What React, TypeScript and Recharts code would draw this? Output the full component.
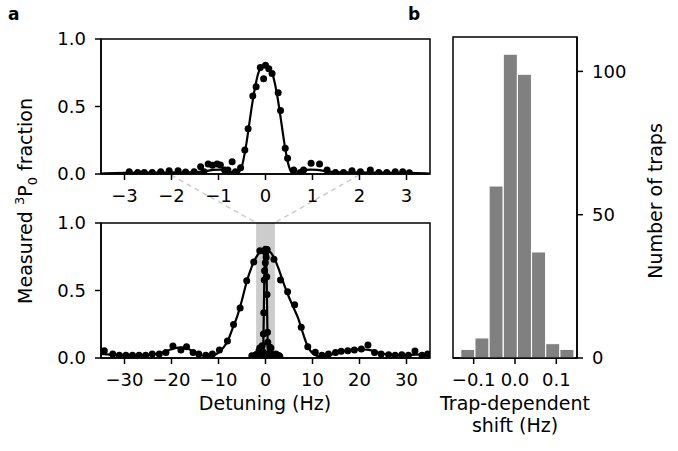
import {
  ComposedChart,
  BarChart,
  Bar,
  Line,
  Scatter,
  XAxis,
  YAxis,
  ReferenceArea,
} from 'recharts';

// narrow scan (top panel, also drawn in the wide panel)
const narrowDotX = [
  -2.9, -2.72, -2.58, -2.41, -2.23, -2.05, -1.86, -1.7, -1.52, -1.38, -1.31, -1.22, -1.13, -1.03, -0.96,
  -0.87, -0.8, -0.71, -0.64, -0.53, -0.44, -0.37, -0.27, -0.2, -0.11, -0.04, 0.0, 0.07, 0.14, 0.27,
  0.32, 0.42, 0.47, 0.6, 0.74, 0.81, 0.97, 1.15, 1.31, 1.49, 1.66, 1.84, 2.02, 2.23, 2.41, 2.58,
  2.76, 2.92, 3.06,
];
const narrowDotY = [
  0.017, 0.012, 0.012, 0.012, 0.017, 0.025, 0.025, 0.015, 0.017, 0.054, 0.017, 0.074, 0.065, 0.074, 0.067,
  0.03, 0.03, 0.09, 0.017, 0.047, 0.178, 0.336, 0.578, 0.647, 0.788, 0.705, 0.805, 0.78, 0.745, 0.602,
  0.47, 0.19, 0.116, 0.03, 0.012, 0.03, 0.079, 0.074, 0.03, 0.012, 0.012, 0.025, 0.017, 0.03, 0.012, 0.012,
  0.017, 0.017, 0.01,
];
const narrowFitX = [
  -3.5, -3.0, -2.5, -2.0, -1.6, -1.3, -1.1, -0.95, -0.8, -0.7, -0.62, -0.55, -0.5, -0.45, -0.4, -0.35,
  -0.3, -0.25, -0.2, -0.15, -0.1, -0.05, 0, 0.05, 0.1, 0.15, 0.2, 0.25, 0.3, 0.35, 0.4, 0.45, 0.5, 0.55,
  0.62, 0.7, 0.8, 0.95, 1.1, 1.3, 1.6, 2.0, 2.5, 3.0, 3.5,
];
const narrowFitY = [
  0.003, 0.008, 0.01, 0.012, 0.013, 0.02, 0.03, 0.032, 0.025, 0.01, 0.0, 0.02, 0.06, 0.14, 0.24, 0.36,
  0.48, 0.59, 0.68, 0.75, 0.785, 0.8, 0.805, 0.8, 0.78, 0.74, 0.67, 0.58, 0.47, 0.35, 0.23, 0.13, 0.055, 0.015,
  0.0, 0.01, 0.025, 0.032, 0.03, 0.02, 0.013, 0.012, 0.01, 0.008, 0.003,
];

// wide scan (bottom panel)
const wideDotX = [
  -34.3, -32.5, -31.1, -29.7, -28.3, -26.9, -25.5, -24.1, -22.6, -21.2, -19.7, -18.0, -16.8, -15.4, -14.2,
  -12.7, -11.3, -9.8, -8.1, -6.8, -5.4, -4.0, -2.5, -1.2, 0.35, 1.8, 3.2, 4.7, 6.2, 7.6, 9.0, 10.6, 12.0,
  13.4, 14.9, 16.1, 17.5, 18.9, 20.4, 21.8, 23.2, 24.6, 26.2, 27.6, 29.0, 30.4, 31.8, 33.3, 34.5,
];
const wideDotY = [
  0.054, 0.03, 0.02, 0.02, 0.02, 0.02, 0.02, 0.03, 0.03, 0.04, 0.089, 0.059, 0.084, 0.04, 0.03,
  0.02, 0.03, 0.059, 0.126, 0.248, 0.37, 0.572, 0.712, 0.795, 0.803, 0.731, 0.578, 0.49, 0.395, 0.227, 0.084, 0.042, 0.02,
  0.03, 0.04, 0.05, 0.054, 0.06, 0.067, 0.096, 0.04, 0.03, 0.025, 0.02, 0.025, 0.02, 0.052, 0.02, 0.03,
];
const wideFitX = [
  -35, -33, -30, -27, -24, -22, -20, -19, -18, -17, -16, -15, -14, -13, -12, -11, -10, -9, -8, -7, -6, -5,
  -4, -3, -2, -1, 0, 1, 2, 3, 4, 5, 6, 7, 8, 9, 10, 11, 12, 13, 14, 16, 18, 20, 22, 24, 26, 29, 32, 35,
];
const wideFitY = [
  0.03, 0.025, 0.02, 0.02, 0.025, 0.04, 0.065, 0.075, 0.078, 0.075, 0.06, 0.04, 0.025, 0.015, 0.015, 0.02, 0.04, 0.075, 0.13, 0.22, 0.31, 0.43,
  0.565, 0.67, 0.745, 0.79, 0.8, 0.785, 0.73, 0.64, 0.54, 0.45, 0.37, 0.29, 0.18, 0.085, 0.035, 0.015, 0.01, 0.015, 0.025, 0.045, 0.06, 0.065, 0.06, 0.04, 0.025, 0.02, 0.025, 0.03,
];

// histogram of trap-dependent shifts
const shiftCenters = [-0.114, -0.0797, -0.0455, -0.0112, 0.023, 0.0573, 0.0915, 0.1258];
const shiftCounts = [3, 7, 60, 106, 99, 37, 5, 3];

const narrowTicks = [-3, -2, -1, 0, 1, 2, 3];
const wideTicks = [-30, -20, -10, 0, 10, 20, 30];
const fracTicks = [0, 0.5, 1];
const shiftTicks = [-0.1, 0, 0.1];
const countTicks = [0, 50, 100];

const zip = (xs: number[], ys: number[]) => xs.map((x, i) => ({ x, y: ys[i] }));
const narrowDots = zip(narrowDotX, narrowDotY);
const narrowFit = zip(narrowFitX, narrowFitY);
const wideDots = zip(wideDotX, wideDotY);
const wideFit = zip(wideFitX, wideFitY);
const histData = shiftCenters.map((c, i) => ({ c, n: shiftCounts[i] }));

const FONT = 'DejaVu Sans';
const FS = 18;
const LFS = 19;
const W = 678;
const H = 451;

const tickStyle = { fill: '#000', fontSize: FS, fontFamily: FONT };
const axisLine = { stroke: '#000', strokeWidth: 1.5 };
const tickLine = { stroke: '#000', strokeWidth: 1.5 };
const minus = (v: number) => (v < 0 ? '\u2212' + Math.abs(v) : String(v));
const minus1 = (v: number) => (v < 0 ? '\u2212' + Math.abs(v).toFixed(1) : v.toFixed(1));

const dot = (p: any) => <circle cx={p.cx} cy={p.cy} r={3.5} fill="#000" />;

const abs: React.CSSProperties = { position: 'absolute', left: 0, top: 0 };

export default function App() {
  return (
    <div style={{ position: 'absolute', left: 0, top: 0, width: W, height: H, background: '#fff' }}>
      <svg width={W} height={H} style={abs}>
        <line x1={171} y1={175} x2={256.6} y2={223} stroke="#cccccc" strokeWidth={1.5} strokeDasharray="5 4" />
        <line x1={359} y1={175} x2={274.4} y2={223} stroke="#cccccc" strokeWidth={1.5} strokeDasharray="5 4" />
      </svg>

      {/* top: narrow scan */}
      <div style={abs}>
        <ComposedChart width={W} height={H} margin={{ top: 39, right: 248, left: 41, bottom: 247 }}>
          <XAxis
            type="number"
            dataKey="x"
            domain={[-3.5, 3.5]}
            ticks={narrowTicks}
            tickFormatter={minus}
            allowDataOverflow
            height={30}
            tick={tickStyle}
            axisLine={axisLine}
            tickLine={tickLine}
            tickSize={6}
            tickMargin={9}
          />
          <YAxis
            type="number"
            dataKey="y"
            domain={[0, 1]}
            ticks={fracTicks}
            tickFormatter={(v: number) => v.toFixed(1)}
            allowDataOverflow
            width={60}
            tick={tickStyle}
            axisLine={axisLine}
            tickLine={tickLine}
            tickSize={6}
            tickMargin={9}
          />
          <Line data={narrowFit} dataKey="y" type="monotone" stroke="#000" strokeWidth={2.2} dot={false} isAnimationActive={false} />
          <Scatter data={narrowDots} dataKey="y" shape={dot} isAnimationActive={false} />
          <ReferenceArea x1={-3.5} x2={3.5} y1={0} y2={1} fill="none" stroke="#000" strokeWidth={1.5} />
        </ComposedChart>
      </div>

      {/* bottom: wide scan */}
      <div style={abs}>
        <ComposedChart width={W} height={H} margin={{ top: 223, right: 248, left: 41, bottom: 63 }}>
          <XAxis
            type="number"
            dataKey="x"
            domain={[-35, 35]}
            ticks={wideTicks}
            tickFormatter={minus}
            allowDataOverflow
            height={30}
            tick={tickStyle}
            axisLine={axisLine}
            tickLine={tickLine}
            tickSize={6}
            tickMargin={9}
          />
          <YAxis
            type="number"
            dataKey="y"
            domain={[0, 1]}
            ticks={fracTicks}
            tickFormatter={(v: number) => v.toFixed(1)}
            allowDataOverflow
            width={60}
            tick={tickStyle}
            axisLine={axisLine}
            tickLine={tickLine}
            tickSize={6}
            tickMargin={9}
          />
          <ReferenceArea x1={-2} x2={2} y1={0} y2={1} fill="#cccccc" fillOpacity={1} stroke="none" />
          <Line data={wideFit} dataKey="y" type="monotone" stroke="#000" strokeWidth={2.2} dot={false} isAnimationActive={false} />
          <Scatter data={wideDots} dataKey="y" shape={dot} isAnimationActive={false} />
          <Line data={narrowFit} dataKey="y" type="monotone" stroke="#000" strokeWidth={2.2} dot={false} isAnimationActive={false} />
          <Scatter data={narrowDots} dataKey="y" shape={dot} isAnimationActive={false} />
          <ReferenceArea x1={-35} x2={35} y1={0} y2={1} fill="none" stroke="#000" strokeWidth={1.5} />
        </ComposedChart>
      </div>

      {/* right: histogram */}
      <div style={abs}>
        <BarChart data={histData} width={W} height={H} margin={{ top: 37, right: 41, left: 453, bottom: 63 }}>
          <XAxis
            type="number"
            dataKey="c"
            domain={[-0.15, 0.15]}
            ticks={shiftTicks}
            tickFormatter={minus1}
            allowDataOverflow
            height={30}
            tick={tickStyle}
            axisLine={axisLine}
            tickLine={tickLine}
            tickSize={6}
            tickMargin={9}
          />
          <YAxis
            type="number"
            orientation="right"
            domain={[0, 112]}
            ticks={countTicks}
            allowDataOverflow
            width={60}
            tick={tickStyle}
            axisLine={axisLine}
            tickLine={tickLine}
            tickSize={6}
            tickMargin={9}
          />
          <Bar dataKey="n" fill="#808080" stroke="#fff" strokeWidth={1} barSize={14} isAnimationActive={false} />
          <ReferenceArea x1={-0.15} x2={0.15} y1={0} y2={112} fill="none" stroke="#000" strokeWidth={1.5} />
        </BarChart>
      </div>

      <svg width={W} height={H} style={{ ...abs, pointerEvents: 'none' }} fontFamily={FONT} fontSize={LFS}>
        <text x={8} y={20} fontWeight="bold" fontSize={17}>a</text>
        <text x={408} y={20} fontWeight="bold" fontSize={17}>b</text>
        <text transform="translate(32,201) rotate(-90)" textAnchor="middle">
          Measured <tspan dy={-8} fontSize={13}>3</tspan>
          <tspan dy={8}>P</tspan>
          <tspan dy={5} fontSize={13}>0</tspan>
          <tspan dy={-5}> fraction</tspan>
        </text>
        <text x={265} y={410} textAnchor="middle">Detuning (Hz)</text>
        <text x={515} y={410} textAnchor="middle">Trap-dependent</text>
        <text x={515} y={432} textAnchor="middle">shift (Hz)</text>
        <text transform="translate(662,201) rotate(-90)" textAnchor="middle">Number of traps</text>
      </svg>
    </div>
  );
}
